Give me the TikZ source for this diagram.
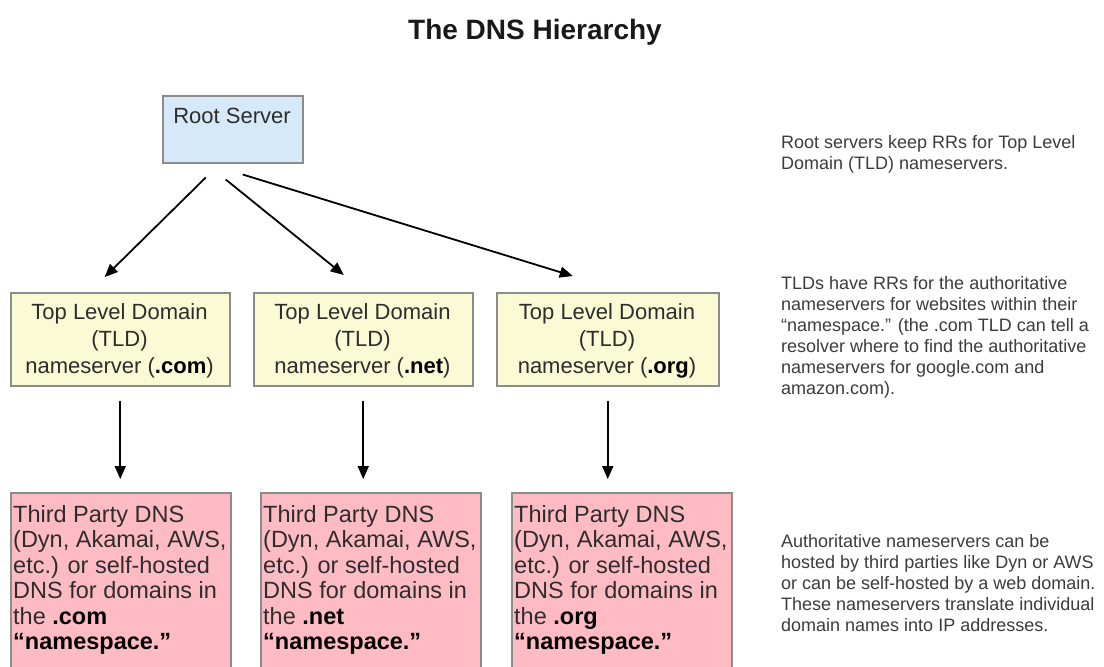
\documentclass[tikz,border=0pt]{standalone}
\usepackage{fontspec}
\setmainfont{Liberation Sans}
\usetikzlibrary{arrows.meta,calc}
\definecolor{rootfill}{RGB}{214,233,248}
\definecolor{tldfill}{RGB}{250,250,212}
\definecolor{thirdfill}{RGB}{255,187,195}
\definecolor{boxline}{RGB}{140,140,140}
\definecolor{txt}{RGB}{45,45,45}
\definecolor{note}{RGB}{60,60,60}
\begin{document}
\begin{tikzpicture}[x=1pt,y=-1pt,
  box/.style={draw=boxline, line width=1.5pt, anchor=north west, inner sep=0pt},
  arr/.style={line width=1.8pt, -{Triangle[length=13pt,width=11pt]}},
  tldtxt/.style={anchor=base, text=txt, font=\fontsize{22}{27}\selectfont, align=center, inner sep=0pt},
  thirdtxt/.style={anchor=base west, text=txt, font=\fontsize{23.5}{25.5}\selectfont, align=left, inner sep=0pt},
  notetxt/.style={anchor=base west, text=note, font=\fontsize{18}{21}\selectfont, align=left, inner sep=0pt}]
\clip (0,0) rectangle (1104,667);
\fill[white] (0,0) rectangle (1104,667);

\node[anchor=base, font=\bfseries\fontsize{28}{34}\selectfont, text=black!90, inner sep=0pt] (title) at (535,39) {The DNS Hierarchy};

% root
\node[box, fill=rootfill, minimum width=140pt, minimum height=67pt] (root) at (162,95) {};
\node[tldtxt] (roottxt) at (232,123) {Root Server};

% TLD boxes (text anchored at baseline of last line)
\node[box, fill=tldfill, minimum width=219pt, minimum height=93pt] (tld1) at (10,292) {};
\node[box, fill=tldfill, minimum width=219pt, minimum height=93pt] (tld2) at (253,292) {};
\node[box, fill=tldfill, minimum width=222pt, minimum height=93pt] (tld3) at (496,292) {};
\node[tldtxt] (tld1txt) at (119.5,373) {Top Level Domain\\(TLD)\\nameserver (\textbf{\color{black}.com})};
\node[tldtxt] (tld2txt) at (362.5,373) {Top Level Domain\\(TLD)\\nameserver (\textbf{\color{black}.net})};
\node[tldtxt] (tld3txt) at (607,373) {Top Level Domain\\(TLD)\\nameserver (\textbf{\color{black}.org})};

% third party boxes
\node[box, fill=thirdfill, minimum width=220pt, minimum height=200pt] (bot1) at (10,492) {};
\node[box, fill=thirdfill, minimum width=220pt, minimum height=200pt] (bot2) at (260,492) {};
\node[box, fill=thirdfill, minimum width=220pt, minimum height=200pt] (bot3) at (511,492) {};
\node[thirdtxt] (bot1txt) at (13,649.5) {Third Party DNS\\(Dyn, Akamai, AWS,\\etc.) or self-hosted\\DNS for domains in\\the \textbf{\color{black}.com}\\\textbf{\color{black}“namespace.”}};
\node[thirdtxt] (bot2txt) at (263,649.5) {Third Party DNS\\(Dyn, Akamai, AWS,\\etc.) or self-hosted\\DNS for domains in\\the \textbf{\color{black}.net}\\\textbf{\color{black}“namespace.”}};
\node[thirdtxt] (bot3txt) at (514,649.5) {Third Party DNS\\(Dyn, Akamai, AWS,\\etc.) or self-hosted\\DNS for domains in\\the \textbf{\color{black}.org}\\\textbf{\color{black}“namespace.”}};

% arrows
\draw[arr] ($(root.south)+(-27,14)$) -- ($(tld1.north)+(-15.5,-15)$);
\draw[arr] ($(root.south)+(-7,16)$) -- ($(tld2.north)+(-19.5,-17)$);
\draw[arr] ($(root.south)+(10,11)$) -- ($(tld3.north)+(-35,-16)$);
\draw[arr] ($(tld1.south)+(0,14)$) -- ($(tld1.south |- bot1.north)+(0,-13)$);
\draw[arr] ($(tld2.south)+(0,14)$) -- ($(tld2.south |- bot2.north)+(0,-13)$);
\draw[arr] ($(tld3.south)+(0,14)$) -- ($(tld3.south |- bot3.north)+(0,-13)$);

% notes
\node[notetxt] (note1) at (781,169) {Root servers keep RRs for Top Level\\Domain (TLD) nameservers.};
\node[notetxt] (note2) at (781,394) {TLDs have RRs for the authoritative\\nameservers for websites within their\\“namespace.” (the .com TLD can tell a\\resolver where to find the authoritative\\nameservers for google.com and\\amazon.com).};
\node[notetxt] (note3) at (781,631) {Authoritative nameservers can be\\hosted by third parties like Dyn or AWS\\or can be self-hosted by a web domain.\\These nameservers translate individual\\domain names into IP addresses.};
\end{tikzpicture}
\end{document}
